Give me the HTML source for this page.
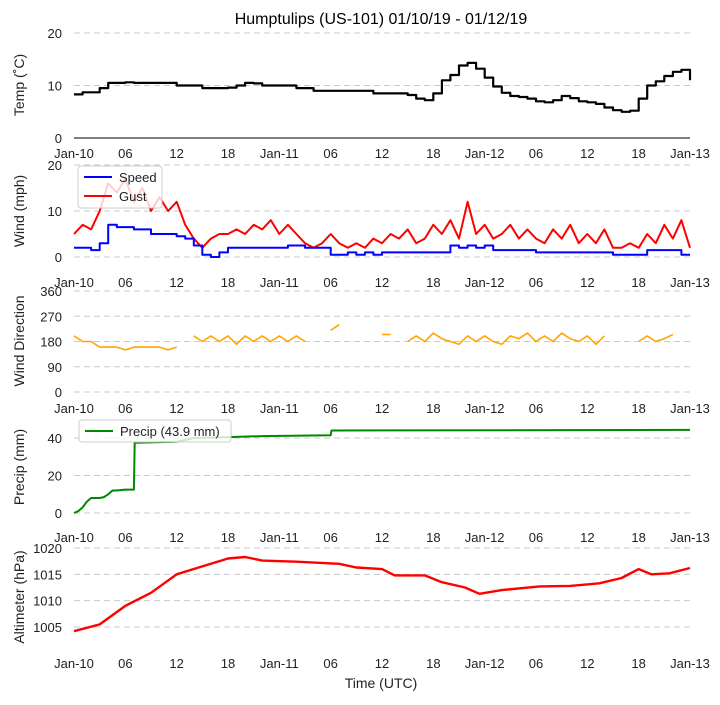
<!DOCTYPE html>
<html><head><meta charset="utf-8"><style>
body{margin:0;background:#fff;}
svg text{font-family:"Liberation Sans","DejaVu Sans",sans-serif;}
</style></head><body>
<svg id="c" width="720" height="700" xmlns="http://www.w3.org/2000/svg"></svg>
<script>
const xTickLabels=["Jan-10","06","12","18","Jan-11","06","12","18","Jan-12","06","12","18","Jan-13"];
const temp=[8.3,8.7,8.7,9.5,10.5,10.5,10.6,10.5,10.5,10.5,10.5,10.5,10,10,10,9.5,9.5,9.5,9.6,10,10.5,10.4,10,10,10,10,9.5,9.5,9,9,9,9,9,9,9,8.5,8.5,8.5,8.5,8.2,7.5,7.2,8.5,11,12,13.8,14.3,13.2,11.5,9.8,8.6,8,7.8,7.5,7,6.8,7.2,8,7.6,7,6.8,6.5,5.8,5.3,5,5.2,7.5,10,10.8,11.8,12.6,13,11];
const speed=[2,2,1.5,3,7,6.5,6.5,6,6,5,5,5,4.5,4,2.5,0.5,0,1,2,2,2,2,2,2,2,2.5,2.5,2,2,2,0.5,0.5,1,0.5,1,0.5,1,1,1,1,1,1,1,1,2.5,2,2.5,2,2.5,1.5,1.5,1.5,1.5,1.5,1,1,1,1,1,1,1,1,1,0.5,0.5,0.5,0.5,1.5,1.5,1.5,1.5,0.5,0.5];
const gust=[5,7,6,10,16,14,17,12,15,10,13,10,12,7,4,2,4,5,5,6,5,7,6,8,5,7,5,3,2,3,5,3,2,3,2,4,3,5,4,6,3,4,7,5,8,4,12,5,7,4,5,7,4,6,4,3,6,4,7,3,5,3,6,2,2,3,2,5,3,7,4,8,2];
const dir=[200,180,180,160,160,160,150,160,160,160,160,150,160,null,200,180,200,180,200,170,200,180,200,180,200,180,200,180,null,null,220,240,null,null,null,null,205,205,null,180,200,180,210,190,180,170,200,180,200,180,170,200,190,210,180,200,180,210,190,180,200,170,200,null,null,null,180,200,180,190,205,null,null];
const precipHours=[0,0.5,1,1.5,2,3,3.5,4,4.5,5,6,7,7.1,12,14,18,22,30,30.1,72];
const precip=[0,1,3,6,8,8,8.5,10,12,12,12.5,12.5,37.5,38,40,40.5,41,41.5,44,44.3];
const altHours=[0,3,6,9,12,15,18,20,22,26,31,33,36,37.5,41,43,45.7,47.4,50,54.4,58,61.4,64,66,67.5,69.6,72];
const alt=[1004.2,1005.5,1009,1011.5,1015,1016.5,1018,1018.3,1017.6,1017.4,1017,1016.3,1016,1014.8,1014.8,1013.5,1012.5,1011.3,1012,1012.7,1012.8,1013.3,1014.3,1016,1015,1015.2,1016.2];

const svg=document.getElementById('c');
const NS='http://www.w3.org/2000/svg';
function mk(t,a,p){const e=document.createElementNS(NS,t);for(const k in a)e.setAttribute(k,a[k]);(p||svg).appendChild(e);return e;}
const X0=74,X1=690;
function xs(h){return X0+(X1-X0)*h/72;}
function lin(v0,p0,v1,p1){return v=>p0+(v-v0)*(p1-p0)/(v1-v0);}
const panels=[
 {name:'temp',y:lin(0,138,20,33),ticks:[0,10,20],lab:'Temp (\u02DAC)',ly:85,tly:153,solid0:true},
 {name:'wind',y:lin(0,257,20,165),ticks:[0,10,20],lab:'Wind (mph)',ly:211,tly:282},
 {name:'direction',y:lin(0,392,360,291),ticks:[0,90,180,270,360],lab:'Wind Direction',ly:341,tly:408},
 {name:'precip',y:lin(0,513,40,438),ticks:[0,20,40],lab:'Precip (mm)',ly:467,tly:537},
 {name:'altimeter',y:lin(1005,627,1020,548),ticks:[1005,1010,1015,1020],lab:'Altimeter (hPa)',ly:597,tly:663}
];
panels.forEach(p=>{
 const g=mk('g',{});
 
 
 p.ticks.forEach(t=>{
  const y=p.y(t);
  const ln=mk('line',{x1:X0,x2:X1,y1:y,y2:y,stroke:(p.solid0&&t===0)?'#000':'#c8c8c8','stroke-width':1,'stroke-dasharray':(p.solid0&&t===0)?'':'6,4'},g);
  
  
  const tx=mk('text',{x:62,y:y+5,'font-size':13,'text-anchor':'end',fill:'#222'},g);
  tx.textContent=t;
  
  
 });
 xTickLabels.forEach((l,i)=>{
  const tx=mk('text',{x:xs(i*6),y:p.tly+5,'font-size':13,'text-anchor':'middle',fill:'#222'},g);
  tx.textContent=l;
  
  
 });
 const yl=mk('text',{x:0,y:0,'font-size':14,'text-anchor':'middle',fill:'#222',transform:`translate(24,${p.ly}) rotate(-90)`},g);
 yl.textContent=p.lab;
 
 
});
function line(hours,vals,yf,color,name,w,step){
 let d='',pen=false,py=0;
 vals.forEach((v,i)=>{
  if(v===null){pen=false;return;}
  const x=xs(hours[i]),y=yf(v);
  if(pen&&step)d+='L'+x.toFixed(1)+','+py.toFixed(1);
  d+=(pen?'L':'M')+x.toFixed(1)+','+y.toFixed(1);pen=true;py=y;
 });
 const e=mk('path',{d:d,fill:'none',stroke:color,'stroke-width':w||2,'stroke-linejoin':'round'});
 
 
 return e;
}
const hrs=temp.map((_,i)=>i);
line(hrs,temp,panels[0].y,'#000','temp-line',2.2,true);
line(hrs,gust,panels[1].y,'#f00','gust-line',2);
line(hrs,speed,panels[1].y,'#00f','speed-line',2,true);
line(hrs,dir,panels[2].y,'#ffa500','direction-line',1.6);
line(precipHours,precip,panels[3].y,'#080','precip-line',2);
line(altHours,alt,panels[4].y,'#f00','altimeter-line',2.4);
function legend(x,y,w,h,items,name){
 const g=mk('g',{});
 
 
 mk('rect',{x:x,y:y,width:w,height:h,rx:3,fill:'#fff','fill-opacity':0.8,stroke:'#ccc'},g);
 items.forEach((it,i)=>{
  const yy=y+11+i*19;
  mk('line',{x1:x+6,x2:x+34,y1:yy,y2:yy,stroke:it[1],'stroke-width':2},g);
  const t=mk('text',{x:x+41,y:yy+5,'font-size':13,fill:'#222'},g);
  t.textContent=it[0];
  
  
 });
}
legend(78,166,84,42,[['Speed','#00f'],['Gust','#f00']],'wind-legend');
legend(79,420,152,22,[['Precip (43.9 mm)','#080']],'precip-legend');
const title=mk('text',{x:381,y:24,'font-size':16,'text-anchor':'middle',fill:'#000'});
title.textContent='Humptulips (US-101) 01/10/19 - 01/12/19';


const xt=mk('text',{x:381,y:688,'font-size':14,'text-anchor':'middle',fill:'#222'});
xt.textContent='Time (UTC)';


</script>
</body></html>
